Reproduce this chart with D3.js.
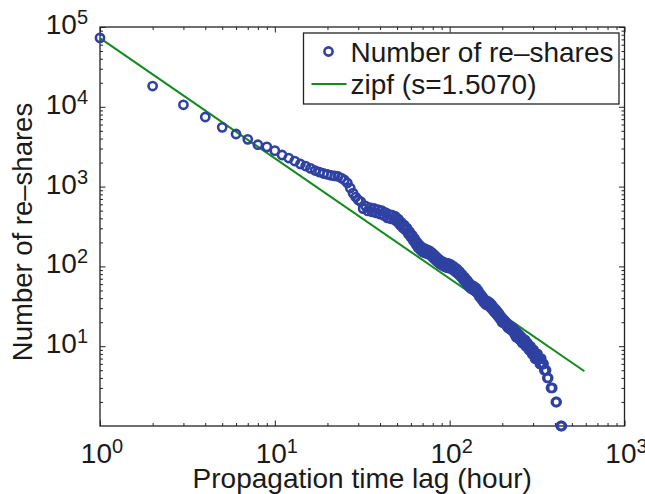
<!DOCTYPE html>
<html>
<head>
<meta charset="utf-8">
<script src="https://cdn.jsdelivr.net/npm/d3@7"></script>
<style>
  body { margin: 0; background: #fff; }
  text { font-family: "Liberation Sans", Arial, sans-serif; fill: #1a1a1a; }
</style>
</head>
<body>
<div id="container"></div>
<script>
// propagation time lag (hours) and number of re-shares
const hours = [
  1, 2, 3, 4, 5, 6, 7, 8, 9, 10,
  11, 12, 13, 14, 15, 16, 17, 18, 19, 20,
  21, 22, 23, 24, 25, 26, 27, 28, 29, 30,
  31, 32, 33, 34, 35, 36, 37, 38, 39, 40,
  41, 42, 43, 44, 45, 46, 47, 48, 49, 50,
  51, 52, 53, 54, 55, 56, 57, 58, 59, 60,
  61, 62, 63, 64, 65, 66, 67, 68, 69, 70,
  71, 72, 73, 74, 75, 76, 77, 78, 79, 80,
  81, 82, 83, 84, 85, 86, 87, 88, 89, 90,
  91, 92, 93, 94, 95, 96, 97, 98, 99, 100,
  102, 104, 106, 108, 110, 112, 114, 116, 118, 120,
  122, 124, 126, 128, 130, 132, 134, 136, 138, 140,
  142, 144, 146, 148, 150, 152, 154, 156, 158, 160,
  162, 164, 166, 168, 170, 172, 174, 176, 178, 180,
  182, 184, 186, 188, 190, 192, 194, 196, 198, 200,
  202, 204, 206, 208, 210, 212, 214, 216, 218, 220,
  222, 224, 226, 228, 230, 232, 234, 236, 238, 240,
  242, 244, 246, 248, 250, 252, 254, 256, 258, 260,
  262, 264, 266, 268, 270, 272, 274, 276, 278, 280,
  282, 284, 286, 288, 290, 292, 294, 296, 298, 300,
  302, 304, 306, 308, 310, 312, 314, 316, 318, 320,
  322, 324, 326, 328, 330, 332, 334, 336, 338, 340,
  342, 344,
  348, 352, 356, 362, 366, 380, 386, 405, 409, 432, 438
]
const reshares = [
  73000, 18200, 10600, 7450, 5530, 4560, 3910, 3350, 3150, 2820,
  2490, 2280, 2090, 1920, 1810, 1690, 1590, 1520, 1460, 1420,
  1380, 1360, 1340, 1280, 1210, 1110, 960, 830, 740, 680,
  647, 529, 572, 495, 546, 481, 532, 468, 514, 452,
  498, 435, 472, 406, 449, 395, 439, 387, 422, 364,
  390, 331, 355, 303, 329, 284, 302, 255, 272, 232,
  247, 210, 224, 189, 202, 172, 187, 161, 175, 152,
  169, 148, 164, 145, 160, 142, 156, 137, 149, 130,
  142, 123, 135, 117, 128, 112, 122, 107, 118, 104,
  114, 101, 112, 99, 110, 97, 109, 96, 108, 95,
  105, 91, 99, 85, 93, 80, 86, 74, 79, 67,
  73, 62, 67, 57, 61.5, 53, 58, 51, 56, 49,
  53.5, 46.3, 49.3, 41.6, 45, 38.7, 41.9, 35.9, 38.7, 33.5,
  37.1, 32.6, 36.3, 32.1, 35, 30.2, 32.9, 28.4, 31, 26.9,
  29.4, 25.5, 27.8, 24.1, 26.2, 22.7, 24.6, 21.3, 23, 19.8,
  22, 20, 21, 19, 20, 18, 19, 17, 18, 17,
  18, 16, 17, 16, 17, 15, 16, 14, 15, 13,
  15, 13, 14, 13, 14, 12, 13, 12, 13, 11,
  12, 11, 12, 11, 12, 10, 11, 10, 11, 10,
  10, 9, 10, 9, 10, 9, 9, 8, 9, 8,
  9, 8, 8, 7, 8, 7, 8, 7, 8, 7,
  7, 7, 7, 6, 7, 6, 7, 6, 6, 6,
  6, 6,
  5, 5, 5, 4, 4, 3, 3, 2, 2, 1, 1
]
// fitted zipf line end points
const zipfHours = [1, 590]
const zipfShares = [72500, 4.85]

const xTicks = [1, 10, 100, 1000]
const xExp = ["0", "1", "2", "3"]
const yTicks = [10, 100, 1000, 10000, 100000]
const yExp = ["1", "2", "3", "4", "5"]

const legendLabels = ["Number of re\u2013shares", "zipf (s=1.5070)"]

const width = 645, height = 494
const margin = { top: 27, right: 20.5, bottom: 68, left: 100 }
const w = width - margin.left - margin.right
const h = height - margin.top - margin.bottom

const blue = "#2f42a2", green = "#138a1c"

const svg = d3.select("#container").append("svg")
    .attr("width", width)
    .attr("height", height)

const g = svg.append("g")
    .attr("transform", "translate(" + margin.left + "," + margin.top + ")")

const xScale = d3.scaleLog().domain([1, 1000]).range([0, w])
const yScale = d3.scaleLog().domain([1, 100000]).range([h, 0])

// minor ticks 2..9 in each decade
const minorX = [], minorY = []
for (let d = 1; d < 1000; d *= 10) for (let k = 2; k < 10; k++) minorX.push(d * k)
for (let d = 1; d < 100000; d *= 10) for (let k = 2; k < 10; k++) minorY.push(d * k)

function tickAxis(axis, vals, size) {
    return axis.tickValues(vals).tickSize(size).tickFormat("")
}

const axes = [
    [() => d3.axisBottom(xScale), "translate(0," + h + ")", minorX, xTicks],
    [() => d3.axisTop(xScale), "translate(0,0)", minorX, xTicks],
    [() => d3.axisLeft(yScale), "translate(0,0)", minorY, yTicks],
    [() => d3.axisRight(yScale), "translate(" + w + ",0)", minorY, yTicks]
]
axes.forEach(([mk, tr, minor, major]) => {
    g.append("g").attr("transform", tr).call(tickAxis(mk(), minor, -3))
        .call(s => s.select(".domain").remove())
    g.append("g").attr("transform", tr).call(tickAxis(mk(), major, -5.5))
        .call(s => s.select(".domain").remove())
})
g.selectAll(".tick line").attr("stroke", "#222").attr("stroke-width", 1)

g.append("rect")
    .attr("width", w)
    .attr("height", h)
    .attr("fill", "none")
    .attr("stroke", "#222")
    .attr("stroke-width", 1.3)

// tick labels as 10^n
xTicks.forEach((v, i) => {
    const t = g.append("text")
        .attr("text-anchor", "middle")
        .attr("x", xScale(v) + 2)
        .attr("y", h + 37)
        .style("font-size", "28px")
    t.append("tspan").text("10")
    t.append("tspan").attr("dy", -10).style("font-size", "20px").text(xExp[i])
})
yTicks.forEach((v, i) => {
    const t = g.append("text")
        .attr("text-anchor", "end")
        .attr("x", -12)
        .attr("y", yScale(v) + 7)
        .style("font-size", "28px")
    t.append("tspan").text("10")
    t.append("tspan").attr("dy", -10).style("font-size", "20px").text(yExp[i])
})

// zipf fit
g.append("path")
    .datum(d3.zip(zipfHours, zipfShares))
    .attr("fill", "none")
    .attr("stroke", green)
    .attr("stroke-width", 2)
    .attr("d", d3.line()
        .x(d => xScale(d[0]))
        .y(d => yScale(d[1])))

// data circles
g.selectAll("circle.pt")
    .data(d3.zip(hours, reshares))
    .enter().append("circle")
    .attr("class", "pt")
    .attr("cx", d => xScale(d[0]))
    .attr("cy", d => yScale(d[1]))
    .attr("r", 4.1)
    .attr("fill", "none")
    .attr("stroke", blue)
    .attr("stroke-width", 2.6)

// axis titles
svg.append("text")
    .attr("text-anchor", "middle")
    .attr("transform", "translate(" + (margin.left + w / 2) + ",488)")
    .style("font-size", "28px")
    .text("Propagation time lag (hour)")

svg.append("text")
    .attr("text-anchor", "middle")
    .attr("transform", "translate(32," + 232 + ")rotate(-90)")
    .style("font-size", "27.5px")
    .text("Number of re\u2013shares")

// legend
const lg = svg.append("g").attr("transform", "translate(303.5,33)")
lg.append("rect")
    .attr("width", 315.5)
    .attr("height", 71)
    .attr("fill", "#fff")
    .attr("stroke", "#222")
    .attr("stroke-width", 1.3)
lg.append("circle")
    .attr("cx", 25)
    .attr("cy", 18.5)
    .attr("r", 4.1)
    .attr("fill", "none")
    .attr("stroke", blue)
    .attr("stroke-width", 2.6)
lg.append("line")
    .attr("x1", 8).attr("x2", 43)
    .attr("y1", 51).attr("y2", 51)
    .attr("stroke", green)
    .attr("stroke-width", 2)
legendLabels.forEach((txt, i) => {
    lg.append("text")
        .attr("x", 47)
        .attr("y", 28.5 + i * 32)
        .style("font-size", "28px")
        .text(txt)
})
</script>
</body>
</html>
